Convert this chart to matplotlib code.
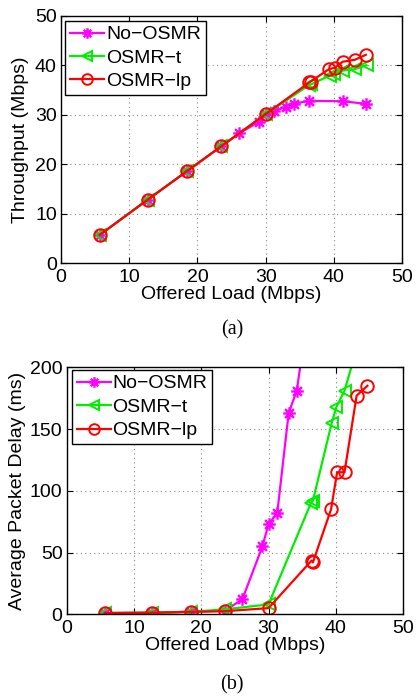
import matplotlib
matplotlib.use("Agg")
import matplotlib.pyplot as plt
from matplotlib.path import Path

# ---- data ----
no_x = [5.7, 12.7, 18.5, 23.5, 26.1, 29.1, 30.0, 31.3, 33.0, 34.2, 36.3, 41.3, 44.7]
no_thr = [5.7, 12.8, 18.6, 23.6, 26.2, 28.6, 30.1, 30.7, 31.6, 32.2, 32.8, 32.7, 32.2]
no_delay = [1, 1.3, 2, 3, 12, 55, 73, 82, 163, 181, 260, 400, 500]

t_x = [5.7, 12.7, 18.5, 23.5, 30.0, 36.3, 36.6, 39.4, 40.1, 41.3, 43.1, 44.8]
t_thr = [5.7, 12.8, 18.6, 23.6, 30.1, 35.9, 36.1, 37.9, 38.3, 38.9, 39.2, 40.0]
t_delay = [1, 1.3, 2, 4, 8, 90, 92, 155, 168, 181, 215, 245]

lp_x = [5.7, 12.7, 18.5, 23.5, 30.0, 36.4, 36.6, 39.3, 40.2, 41.3, 43.1, 44.7]
lp_thr = [5.7, 12.8, 18.6, 23.6, 30.1, 36.5, 36.7, 39.2, 39.5, 40.7, 41.1, 42.1]
lp_delay = [1, 1.3, 2, 2.5, 5, 43.5, 42, 85, 115, 115, 177, 185]

labels = ["No\u2212OSMR", "OSMR\u2212t", "OSMR\u2212lp"]
xticks = [0, 10, 20, 30, 40, 50]
thr_ticks = [0, 10, 20, 30, 40, 50]
delay_ticks = [0, 50, 100, 150, 200]

plt.rcParams['font.family'] = ['Liberation Sans', 'DejaVu Sans']
plt.rcParams['font.size'] = 14

# MATLAB-like asterisk marker (+ and x combined)
d = 0.707
ast = Path([(-1, 0), (1, 0), (0, -1), (0, 1), (-d, -d), (d, d), (-d, d), (d, -d)],
           [Path.MOVETO, Path.LINETO] * 4)

fig = plt.figure(figsize=(4.17, 6.96), dpi=100)
ax1 = fig.add_axes([0.1463, 0.6221, 0.8177, 0.3553])
ax2 = fig.add_axes([0.16, 0.1174, 0.8065, 0.3549])

def style(ax, yticks, ylim, ylabel, ylabelpad):
    ax.set_xlim(0, 50)
    ax.set_ylim(*ylim)
    ax.set_xticks(xticks)
    ax.set_yticks(yticks)
    ax.grid(True, linestyle=(0, (1, 3)), color='#888888', linewidth=0.8)
    ax.tick_params(direction='in', top=True, right=True, length=4, labelsize=14)
    ax.tick_params(axis='x', pad=4)
    ax.tick_params(axis='y', pad=3)
    for s in ax.spines.values():
        s.set_linewidth(1.0)
    ax.set_xlabel("Offered Load (Mbps)", fontsize=14, labelpad=0)
    ax.set_ylabel(ylabel, fontsize=14, labelpad=ylabelpad)

def plot_series(ax, a, b, c):
    ax.plot(no_x, a, color='#ff00ff', marker=ast, markersize=9, lw=1.6,
            markeredgewidth=1.7, label=labels[0])
    ax.plot(t_x, b, color='#00ee00', marker='<', markersize=9, lw=1.6,
            markerfacecolor='none', markeredgewidth=1.4, label=labels[1])
    ax.plot(lp_x, c, color='#ff0000', marker='o', markersize=9, lw=1.6,
            markerfacecolor='none', markeredgewidth=1.4, label=labels[2])

def add_legend(ax, anchor):
    leg = ax.legend(loc='upper left', bbox_to_anchor=anchor, borderaxespad=0,
                    fancybox=False, edgecolor='black', framealpha=1, fontsize=14,
                    handlelength=1.75, handletextpad=0.1, labelspacing=0.3,
                    borderpad=0.25, markerscale=0.85)
    leg.get_frame().set_linewidth(1.0)

plot_series(ax1, no_thr, t_thr, lp_thr)
style(ax1, thr_ticks, (0, 50), "Throughput (Mbps)", 4.5)
add_legend(ax1, (0.012, 0.979))

plot_series(ax2, no_delay, t_delay, lp_delay)
style(ax2, delay_ticks, (0, 200), "Average Packet Delay (ms)", 3)
add_legend(ax2, (0.015, 0.989))

fig.text(0.556, 1 - 330 / 696, "(a)", ha='center', va='center', fontsize=14.5,
         family='Liberation Serif')
fig.text(0.556, 1 - 685 / 696, "(b)", ha='center', va='center', fontsize=14.5,
         family='Liberation Serif')

fig.savefig("out.png", dpi=100)
